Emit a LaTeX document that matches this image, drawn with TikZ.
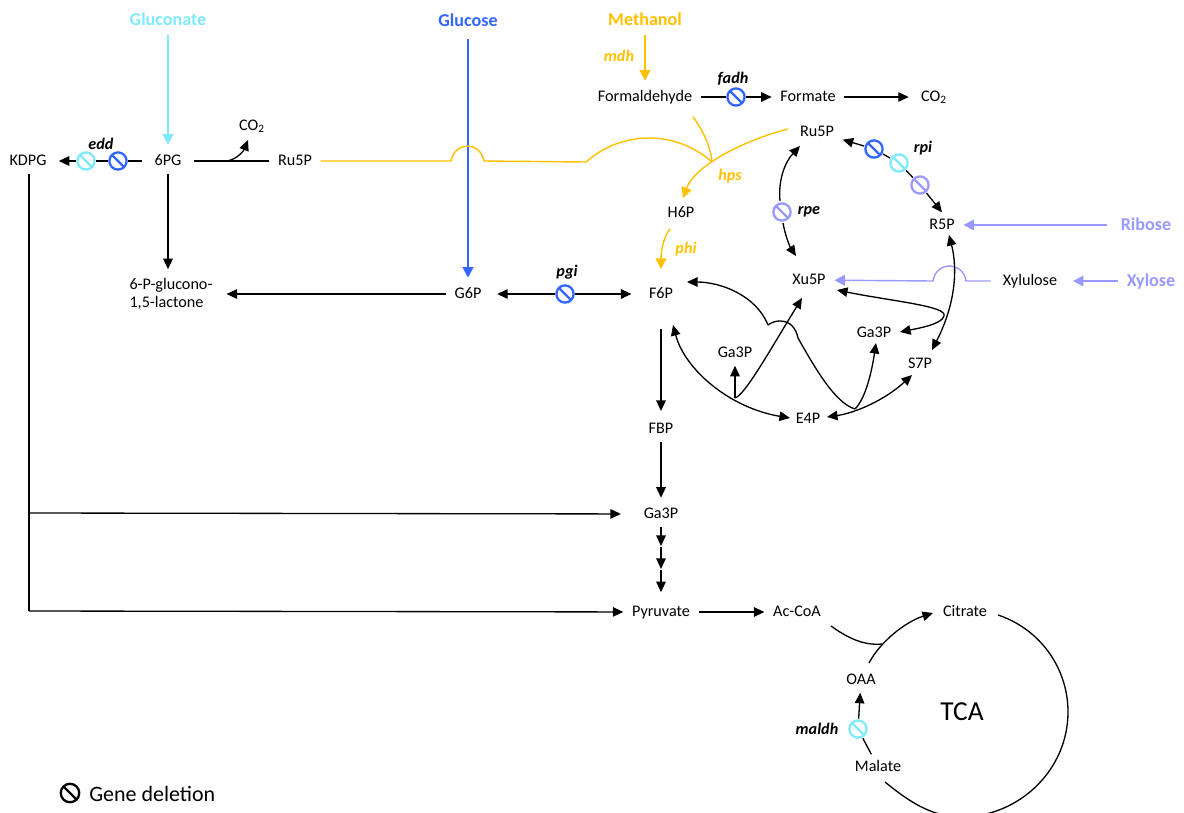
\documentclass[tikz,border=0pt]{standalone}
\usepackage{fontspec}
\setmainfont{Carlito}
\usetikzlibrary{arrows.meta}
\definecolor{glcblue}{RGB}{51,102,255}
\definecolor{gntcyan}{RGB}{127,234,251}
\definecolor{mthorange}{RGB}{255,192,0}
\definecolor{xyllav}{RGB}{153,153,255}

\begin{document}
\begin{tikzpicture}[
    x=0.02cm, y=-0.02cm,
    met/.style={font=\fontsize{9.2}{10.6}\selectfont, inner xsep=4pt, inner ysep=2pt, outer sep=1pt, text height=7pt, text depth=1.5pt},
    feed/.style={font=\fontsize{10.3}{12}\selectfont\bfseries, text=#1, inner xsep=4pt, inner ysep=2pt, outer sep=1pt, text height=7.4pt, text depth=1.6pt},
    enz/.style={font=\fontsize{9.2}{10.6}\selectfont\bfseries\itshape, text=#1, inner sep=0pt},
    enz/.default=black,
    del/.style={circle, draw=#1, fill=white, line width=1.3pt, minimum size=9.8pt, inner sep=0pt, outer sep=1pt,
        path picture={\draw[#1, line width=1.3pt] (path picture bounding box.north west) -- (path picture bounding box.south east);}},
    arrow/.style={-{Triangle[length=6pt,width=5.4pt]}, line width=0.75pt},
    both/.style={{Triangle[length=6pt,width=5.4pt]}-{Triangle[length=6pt,width=5.4pt]}, line width=0.75pt},
    plain/.style={line width=0.75pt},
    flow/.style={-{Triangle[length=6pt,width=6pt]}, line width=1.1pt, draw=#1},
    thinflow/.style={line width=0.8pt, draw=#1}
]
    \useasboundingbox (0,0) rectangle (1184,812);

    % Carbon sources
    \node[feed=gntcyan] (gluconate) at (168,20) {Gluconate};
    \node[feed=glcblue] (glucose) at (468,21) {Glucose};
    \node[feed=mthorange] (methanol) at (645,20) {Methanol};
    \node[feed=xyllav] (ribose) at (1146,225) {Ribose};
    \node[feed=xyllav] (xylose) at (1151,281) {Xylose};

    % Metabolites
    \node[met] (kdpg) at (28,161) {KDPG};
    \node[met] (pg6) at (168,161) {6PG};
    \node[met] (co2a) at (252,126) {CO\textsubscript{2}};
    \node[met] (ru5pa) at (295,161) {Ru5P};
    \node[met, align=left, text height=, text depth=] (lactone) at (171,294) {6-P-glucono-\\1,5-lactone};
    \node[met] (g6p) at (468,294) {G6P};
    \node[met] (f6p) at (661,294) {F6P};
    \node[met] (h6p) at (681,213) {H6P};
    \node[met] (formald) at (645,97) {Formaldehyde};
    \node[met] (formate) at (808,97) {Formate};
    \node[met] (co2b) at (934,97) {CO\textsubscript{2}};
    \node[met] (ru5pb) at (817,132) {Ru5P};
    \node[met] (r5p) at (942,225) {R5P};
    \node[met] (xu5p) at (809,280) {Xu5P};
    \node[met] (xylulose) at (1030,281) {Xylulose};
    \node[met] (ga3pa) at (735,353) {Ga3P};
    \node[met] (ga3pb) at (874,333) {Ga3P};
    \node[met] (s7p) at (920,364) {S7P};
    \node[met] (e4p) at (808,419) {E4P};
    \node[met] (fbp) at (661,429) {FBP};
    \node[met] (ga3pc) at (661,514) {Ga3P};
    \node[met] (pyruvate) at (661,612) {Pyruvate};
    \node[met] (accoa) at (797,612) {Ac-CoA};
    \node[met] (citrate) at (965,612) {Citrate};
    \node[met] (oaa) at (861,680) {OAA};
    \node[met] (malate) at (878,767) {Malate};
    \node[font=\fontsize{15.6}{18}\selectfont] (tca) at (962,712) {TCA};

    % Gene deletions
    \node[del=gntcyan] (deledda) at (86,161) {};
    \node[del=glcblue] (deleddb) at (118,161) {};
    \node[del=glcblue] (delfadh) at (736,97) {};
    \node[del=glcblue] (delpgi) at (565,294) {};
    \node[del=glcblue] (delrpia) at (874,149) {};
    \node[del=gntcyan] (delrpib) at (899,163) {};
    \node[del=xyllav] (delrpic) at (920,185) {};
    \node[del=xyllav] (delrpe) at (782,212) {};
    \node[del=gntcyan] (delmaldh) at (858,729) {};

    % Enzymes
    \node[enz] (edd) at (101,144) {edd};
    \node[enz] (fadh) at (733,79) {fadh};
    \node[enz] (pgi) at (567,272) {pgi};
    \node[enz] (rpi) at (923,148) {rpi};
    \node[enz] (rpe) at (809,212) {rpe};
    \node[enz] (maldh) at (817,729) {maldh};
    \node[enz=mthorange] (mdh) at (619,56) {mdh};
    \node[enz=mthorange] (hps) at (730,176) {hps};
    \node[enz=mthorange] (phi) at (686,249) {phi};

    % Junction points
    \coordinate (jhps) at (712,162);
    \coordinate (jco2) at (227,161);
    \coordinate (jgaa) at (735,398);
    \coordinate (jgab) at (855,409);
    \coordinate (jtip) at (944,316);
    \coordinate (jacc) at (882,644);
    \coordinate (jkdpa) at (29,513);
    \coordinate (jkdpb) at (29,611);
    \coordinate (hopa) at (451,161);
    \coordinate (hopb) at (484,161);
    \coordinate (bendy) at (586,162);
    \coordinate (hopc) at (966,281);
    \coordinate (hopd) at (933,281);
    \coordinate (hope) at (768,325);
    \coordinate (hoptop) at (780,321);
    \coordinate (hopf) at (798,338);
    \coordinate (gaa) at (661,546);
    \coordinate (gab) at (661,547);
    \coordinate (gac) at (661,569);
    \coordinate (gad) at (661,570);
    \coordinate (f6plow) at (661,329);
    \coordinate (tcaend) at (1068,712);
    \coordinate (tcalow) at (961,817);

    % Feed arrows
    \draw[flow=gntcyan, shorten >=2pt, shorten <=1pt] (gluconate) -- (pg6);
    \draw[flow=glcblue, shorten <=3pt, shorten >=2pt] (glucose) -- (g6p);
    \draw[flow=mthorange, shorten >=2pt, shorten <=1pt] (methanol) -- (formald);
    \draw[flow=xyllav, shorten <=3pt] (ribose) -- (r5p);
    \draw[flow=xyllav, shorten >=4pt] (xylose) -- (xylulose);

    % Left branch
    \draw[plain, shorten <=2pt] (pg6) -- (deleddb);
    \draw[plain] (deleddb) -- (deledda);
    \draw[arrow, shorten >=2pt] (deledda) -- (kdpg);
    \draw[plain, shorten <=2pt] (pg6) -- (ru5pa);
    \draw[arrow] (jco2) .. controls (238,159) and (244,150) .. ([shift={(-4,14)}]co2a.center);
    \draw[arrow, shorten >=2pt] (pg6) -- (lactone.north -| pg6);
    \draw[arrow, shorten >=3pt] (g6p) -- (lactone);
    \draw[arrow, shorten >=4pt] (delpgi) -- (g6p);
    \draw[arrow, shorten >=5pt] (delpgi) -- (f6p);
    \draw[plain] (kdpg.south -| jkdpa) -- (jkdpb);
    \draw[arrow, shorten >=8pt] (jkdpa) -- (ga3pc);
    \draw[arrow] (jkdpb) -- (pyruvate);

    % Methanol assimilation
    \draw[thinflow=mthorange] (ru5pa) -- (hopa) .. controls +(4,-20) and +(-4,-20) .. (hopb) -- (bendy)
        .. controls +(36,-32) and +(-36,-32) .. (jhps);
    \draw[thinflow=mthorange] ([shift={(48,20)}]formald.center) .. controls (703,130) and (711,148) .. (jhps);
    \draw[thinflow=mthorange, -{Triangle[length=6pt,width=6pt]}] ([shift={(-29,-3)}]ru5pb.center) .. controls (745,140) and (695,165) .. ([shift={(2,-15)}]h6p.center);
    \draw[thinflow=mthorange, -{Triangle[length=6pt,width=6pt]}] ([shift={(-11,16)}]h6p.center) .. controls (664,236) and (661,250) .. ([shift={(0,-25)}]f6p.center);

    % Formate
    \draw[plain] (formald) -- (delfadh);
    \draw[arrow] (delfadh) -- (formate);
    \draw[arrow, shorten >=2pt] (formate) -- (co2b);

    % Pentose phosphate cycle
    \draw[arrow] (delrpia) -- (ru5pb);
    \draw[plain] (delrpia) -- (delrpib);
    \draw[plain] (delrpib) -- (delrpic);
    \draw[arrow] (delrpic) -- (r5p.north);
    \draw[arrow] ([shift={(-2,-11)}]delrpe.center) .. controls (778,180) and (785,162) .. ([shift={(-17,14)}]ru5pb.center);
    \draw[arrow] ([shift={(1,11)}]delrpe.center) .. controls (785,235) and (790,247) .. ([shift={(-13,-24)}]xu5p.center);
    \draw[thinflow=xyllav, -{Triangle[length=6pt,width=6pt]}, shorten <=2pt] (xylulose) -- (hopc)
        .. controls +(-3,-20) and +(3,-20) .. (hopd) -- (xu5p);
    \draw[both] ([shift={(7,10)}]r5p.center) .. controls (958,270) and (955,305) .. ([shift={(12,-14)}]s7p.center);
    \draw[arrow] (jtip) .. controls (948,306) and (890,301) .. ([shift={(28,10)}]xu5p.center);
    \draw[arrow] (jtip) .. controls (942,324) and (920,328) .. ([shift={(26,-1)}]ga3pb.center);
    \draw[arrow] (hope) .. controls (756,295) and (720,282) .. ([shift={(26,-12)}]f6p.center);
    \draw[plain] (hope) .. controls (772,322) and (776,321) .. (hoptop) .. controls (790,321) and (796,328) .. (hopf);
    \draw[plain] (hopf) .. controls (815,368) and (835,403) .. (jgab);
    \draw[both] ([shift={(19,-2)}]e4p.center) .. controls (855,413) and (885,400) .. ([shift={(-8,11)}]s7p.center);
    \draw[arrow] (jgab) .. controls (866,398) and (872,370) .. ([shift={(2,10)}]ga3pb.center);
    \draw[both] ([shift={(12,31)}]f6p.center) .. controls (685,370) and (730,408) .. ([shift={(-18,-1)}]e4p.center);
    \draw[arrow] (jgaa) -- (ga3pa);
    \draw[arrow] (jgaa) .. controls (745,395) and (770,350) .. ([shift={(-7,18)}]xu5p.center);

    % Lower glycolysis
    \draw[arrow, shorten >=3pt] (f6plow) -- (fbp);
    \draw[arrow, shorten >=2pt] (fbp) -- (ga3pc);
    \draw[arrow] (ga3pc) -- (gaa);
    \draw[arrow] (gab) -- (gac);
    \draw[arrow, shorten >=4pt] (gad) -- (pyruvate);
    \draw[arrow] (pyruvate) -- (accoa);

    % TCA cycle
    \draw[plain] ([shift={(34,14)}]accoa.center) .. controls (845,636) and (862,646) .. (jacc);
    \draw[arrow] ([shift={(8,-17)}]oaa.center) .. controls (880,642) and (905,622) .. ([shift={(-32,1)}]citrate.center);
    \draw[plain] ([shift={(33,3)}]citrate.center) .. controls +(42,14) and +(0,-44) .. (tcaend)
        .. controls +(0,58) and +(58,0) .. (tcalow) .. controls +(-30,0) and +(22,18) .. ([shift={(7,15)}]malate.center);
    \draw[arrow] (delmaldh) -- (oaa);
    \draw[plain] (malate) -- (delmaldh);

    % Legend
    \node[del=black, minimum size=10.5pt] (dellegend) at (70,793) {};
    \node[font=\fontsize{12.5}{15}\selectfont, anchor=west, inner sep=0pt] (legend) at (89,794) {Gene deletion};
\end{tikzpicture}
\end{document}
